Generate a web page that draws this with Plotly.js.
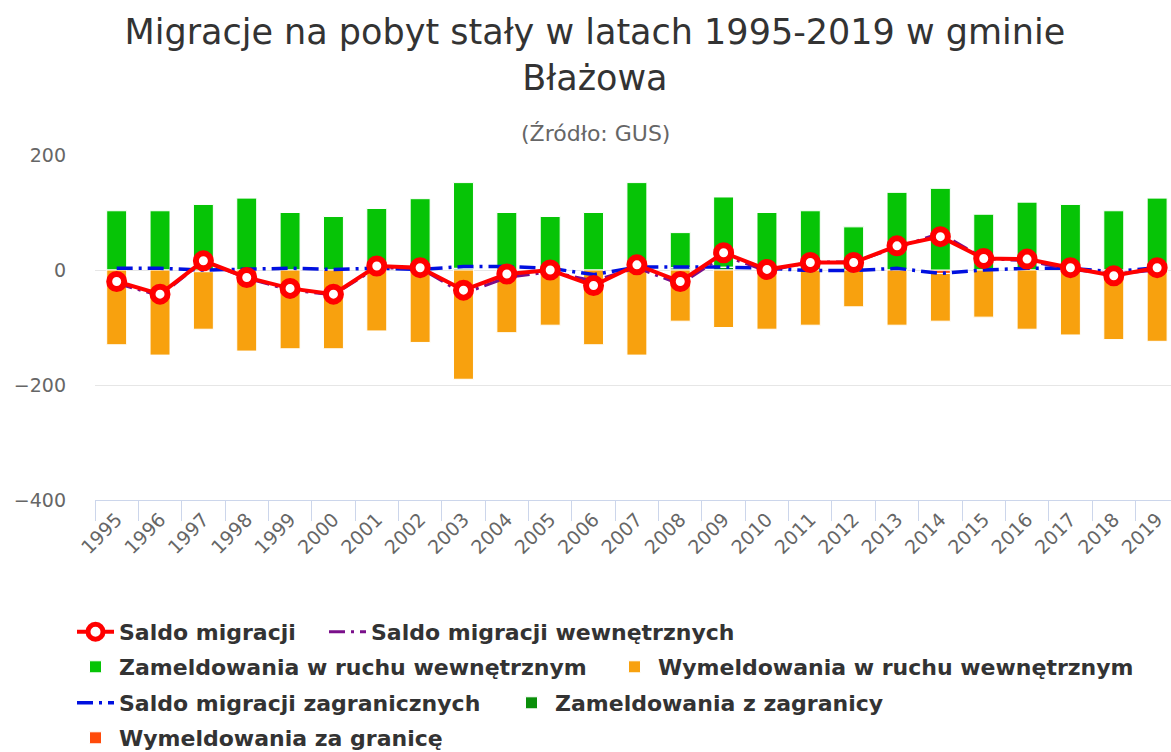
<!DOCTYPE html>
<html>
<head>
<meta charset="utf-8">
<script src="https://cdn.plot.ly/plotly-3.0.1.min.js"></script>
<style>html,body{margin:0;padding:0;background:#fff;overflow:hidden}#chart{width:1171px;height:752px}</style>
</head>
<body>
<div id="chart"></div>
<script>
const years = ["1995","1996","1997","1998","1999","2000","2001","2002","2003","2004","2005","2006","2007","2008","2009","2010","2011","2012","2013","2014","2015","2016","2017","2018","2019"];
const saldo = [-20,-42,16,-13,-32,-42,7,4,-35,-7,0,-27,9,-20,30,1,13,13,42,58,20,19,4,-10,4];
const saldoWewn = [-23,-45,16,-14,-35,-43,4,3,-41,-13,-3,-19,4,-25,25,-2,14,14,39,64,20,16,1,-7,0];
const zamWewn = [103,103,114,125,100,93,107,124,149,100,93,100,152,61,122,100,103,75,135,142,97,118,114,103,125];
const wymWewn = [-130,-148,-100,-141,-137,-137,-106,-126,-190,-109,-96,-130,-148,-89,-100,-103,-96,-64,-96,-83,-82,-103,-113,-121,-124];
const saldoZagr = [3,3,0,1,3,1,3,1,6,6,3,-8,5,5,5,3,-1,-1,3,-6,0,3,3,-3,4];
const zamZagr = [0,0,0,0,0,0,0,0,3,0,0,0,0,4,5,0,0,0,0,0,0,0,0,0,0];
const wymZagr = [0,0,-3,0,0,0,0,0,0,0,0,0,0,0,0,0,0,0,0,-6,0,0,0,0,0];

const dashPat = "16px,6px,3px,6px";
const barW = 0.46;
const traces = [
  {type:'bar', name:'Zameldowania z zagranicy', x:years, y:zamZagr, width:barW,
   marker:{color:'#0a8f0a', line:{color:'#ffffff', width:1}}, legend:'legend3', legendrank:2},
  {type:'bar', name:'Wymeldowania za granicę', x:years, y:wymZagr, width:barW,
   marker:{color:'#ff4a0a', line:{color:'#ffffff', width:1}}, legend:'legend4', legendrank:1},
  {type:'bar', name:'Zameldowania w ruchu wewnętrznym', x:years, y:zamWewn, width:barW,
   marker:{color:'#06c406', line:{color:'#ffffff', width:1}}, legend:'legend2', legendrank:1, legendwidth:487},
  {type:'bar', name:'Wymeldowania w ruchu wewnętrznym', x:years, y:wymWewn, width:barW,
   marker:{color:'#f8a10e', line:{color:'#ffffff', width:1}}, legend:'legend2', legendrank:2},
  {type:'scatter', mode:'lines', name:'Saldo migracji zagranicznych', x:years, y:saldoZagr,
   line:{color:'#0010e0', width:3.5, dash:dashPat}, legend:'legend3', legendrank:1, legendwidth:384},
  {type:'scatter', mode:'lines', name:'Saldo migracji wewnętrznych', x:years, y:saldoWewn,
   line:{color:'#7a0f8a', width:3, dash:dashPat}, legend:'legend', legendrank:2},
  {type:'scatter', mode:'lines+markers', name:'Saldo migracji', x:years, y:saldo,
   line:{color:'#ff0000', width:4},
   marker:{symbol:'circle', size:15, color:'#ffffff', line:{color:'#ff0000', width:6}}, legend:'legend', legendrank:1, legendwidth:200}
];

const legFont = {family:'DejaVu Sans, sans-serif', size:22, color:'#333333', weight:'bold'};
function mkLegend(yc){
  return {orientation:'h', xref:'container', yref:'container', x:72/1171, y:1-yc/752,
    xanchor:'left', yanchor:'middle', traceorder:'normal', font:legFont,
    itemwidth:37, bgcolor:'rgba(0,0,0,0)'};
}

const layout = {
  width:1171, height:752,
  paper_bgcolor:'#ffffff', plot_bgcolor:'#ffffff',
  font:{family:'DejaVu Sans, sans-serif', color:'#333333'},
  margin:{l:95, r:0, t:155, b:252},
  barmode:'relative',
  title:{text:'Migracje na pobyt stały w latach 1995-2019 w gminie<br>Błażowa',
    font:{family:'DejaVu Sans, sans-serif', size:35, color:'#333333'},
    x:0.508, xanchor:'center', xref:'container', y:1-44/752, yanchor:'middle', yref:'container'},
  annotations:[{text:'(Źródło: GUS)', xref:'paper', yref:'paper', x:(595-95)/1076, y:(500-133)/345,
    xanchor:'center', yanchor:'middle', showarrow:false,
    font:{family:'DejaVu Sans, sans-serif', size:22, color:'#666666'}}],
  xaxis:{type:'category', range:[-0.5, 24.32], tickangle:-45, tickson:'boundaries',
    ticks:'outside', ticklen:20, tickcolor:'#ccd6eb', tickwidth:1,
    showline:true, linecolor:'#ccd6eb', linewidth:1, showgrid:false,
    tickfont:{family:'DejaVu Sans, sans-serif', size:19, color:'#666666'}, fixedrange:true},
  yaxis:{range:[-400,200], tickvals:[-400,-200,0,200], showgrid:true, gridcolor:'#e6e6e6', gridwidth:1,
    zeroline:false, showline:false, ticks:'', ticklabelstandoff:28,
    tickfont:{family:'DejaVu Sans, sans-serif', size:19, color:'#666666'}, fixedrange:true},
  showlegend:true,
  legend:mkLegend(632),
  legend2:mkLegend(667),
  legend3:mkLegend(703),
  legend4:mkLegend(738)
};
Plotly.newPlot('chart', traces, layout, {displayModeBar:false, staticPlot:true});
</script>
</body>
</html>
